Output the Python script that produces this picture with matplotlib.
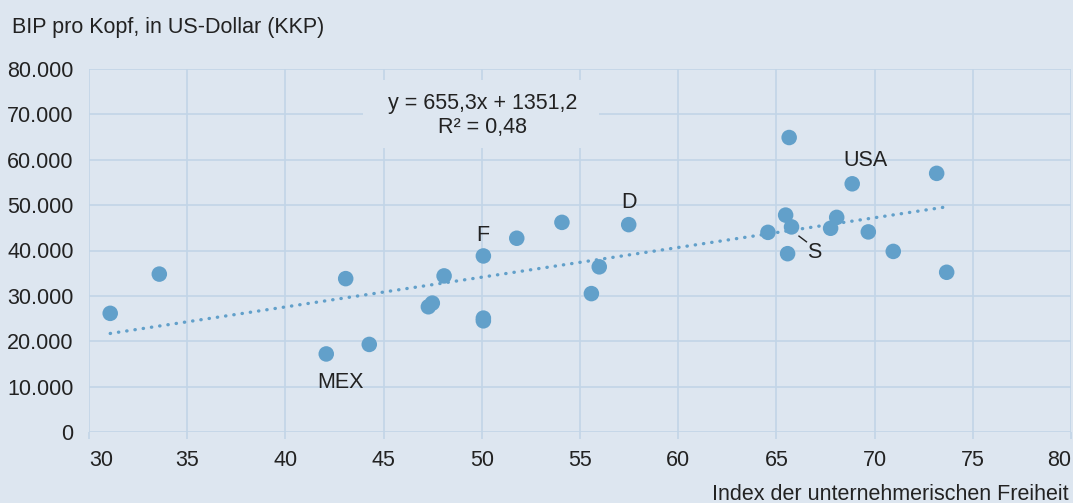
import numpy as np
import matplotlib
matplotlib.use('Agg')
import matplotlib.pyplot as plt
from matplotlib.patches import Rectangle

plt.rcParams['font.family'] = ['Liberation Sans', 'DejaVu Sans']

# colours
bg = '#dde6f0'
grid_col = '#c2d5e7'
dot_col = '#62a0ca'
text_col = '#222222'
fs = 15.5

# index of entrepreneurial freedom vs GDP per capita (PPP)
freedom = [31.08, 33.58, 42.08, 43.07, 44.27, 47.28, 47.48, 48.08, 50.08, 50.08,
           50.08, 51.78, 54.08, 55.58, 55.98, 57.48, 64.57, 65.47, 65.57, 65.65,
           65.77, 67.76, 68.07, 68.86, 69.68, 70.95, 73.16, 73.67]
gdp = [26150, 34800, 17200, 33800, 19300, 27600, 28400, 34400, 38800, 24500,
       25100, 42700, 46200, 30500, 36400, 45700, 44000, 47800, 39300, 64900,
       45200, 44900, 47300, 54700, 44100, 39800, 57000, 35200]

# trend line coefficients
slope = 655.3
intercept = 1351.2

# country labels
lbl_text = ['F', 'D', 'USA', 'S', 'MEX']
lbl_x = [50.04, 57.51, 69.56, 66.95, 42.83]
lbl_y = [43400, 50600, 59760, 39500, 10860]

xticks = [30, 35, 40, 45, 50, 55, 60, 65, 70, 75, 80]
yticks = [0, 10000, 20000, 30000, 40000, 50000, 60000, 70000, 80000]
ytick_labels = ['0', '10.000', '20.000', '30.000', '40.000', '50.000',
                '60.000', '70.000', '80.000']

fig = plt.figure(figsize=(10.73, 5.03), dpi=100, facecolor=bg)
ax = fig.add_axes([89 / 1073, 71 / 503, 982 / 1073, 363 / 503])
ax.set_facecolor(bg)

ax.set_xlim(30, 80)
ax.set_ylim(0, 80000)
ax.set_xticks(xticks)
ax.set_xticklabels([str(t) for t in xticks])
ax.set_yticks(yticks)
ax.set_yticklabels(ytick_labels)

ax.set_axisbelow(True)
ax.grid(True, color=grid_col, lw=1.2)
for s in ax.spines.values():
    s.set_visible(False)
ax.tick_params(axis='x', length=5, width=1.2, color=grid_col, pad=8,
               labelsize=fs, labelcolor=text_col)
ax.tick_params(axis='y', length=0, pad=11, labelsize=fs, labelcolor=text_col)

# box behind the equation hides the grid
ax.add_patch(Rectangle((43.95, 62555), 12.0, 15000, facecolor=bg,
                       edgecolor='none', zorder=1))
ax.text(50.06, 69800, 'y = 655,3x + 1351,2\nR² = 0,48', ha='center', va='center',
        fontsize=fs, color=text_col, linespacing=1.2, zorder=3)

# trend line
tx = np.array([min(freedom), max(freedom)])
ax.plot(tx, slope * tx + intercept, color=dot_col, lw=2.4,
        linestyle=(0, (0.1, 2.4)), dash_capstyle='round', zorder=2)

ax.scatter(freedom, gdp, s=125, color=dot_col, edgecolors='none', zorder=4)

for t, x, y in zip(lbl_text, lbl_x, lbl_y):
    ax.text(x, y, t, ha='center', va='center', fontsize=fs, color=text_col, zorder=5)
ax.plot([66.15, 66.53], [43170, 41920], color=text_col, lw=1, zorder=5)

fig.canvas.draw()
xl = ax.get_xticklabels()
xl[0].set_ha('left')
xl[-1].set_ha('right')

fig.text(12 / 1073, 1 - 27 / 503, 'BIP pro Kopf, in US-Dollar (KKP)', ha='left',
         va='center', fontsize=fs, color=text_col)
fig.text(1069 / 1073, 1 - 494 / 503, 'Index der unternehmerischen Freiheit',
         ha='right', va='center', fontsize=fs, color=text_col)

fig.savefig('out.png', dpi=100, facecolor=bg)
